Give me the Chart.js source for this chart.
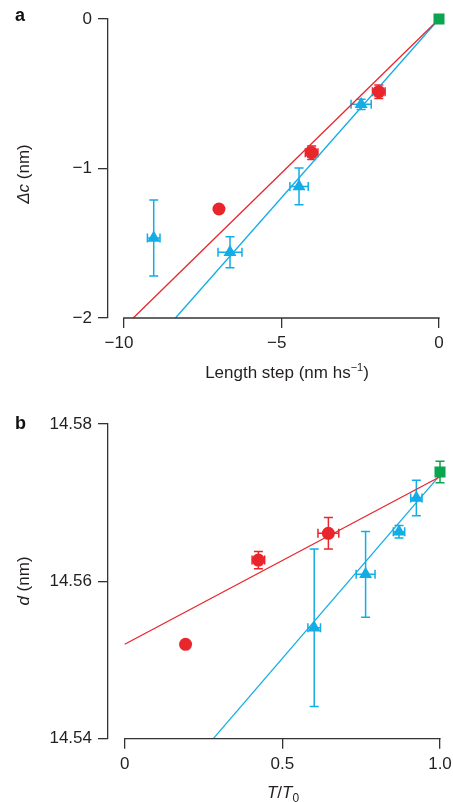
<!DOCTYPE html>
<html lang="en">
<head>
<meta charset="UTF-8">
<title>Length step and spacing</title>
<script src="https://cdn.jsdelivr.net/npm/chart.js@4.4.1/dist/chart.umd.min.js"></script>
<style>
  body { margin: 0; background: #fff; }
  #wrap { position: relative; width: 453px; height: 802px; background: #fff; }
  canvas { position: absolute; left: 0; }
  .t { position: absolute; font: 17px "Liberation Sans", Arial, sans-serif; color: #231f20;
       line-height: 1; white-space: nowrap; transform: translate(-50%, -50%); }
  .ty { transform: translate(-50%, -50%) rotate(-90deg); }
  .panel { position: absolute; font: bold 18px "Liberation Sans", Arial, sans-serif; color: #111; line-height: 1; }
  sup { font-size: 11px; vertical-align: 7px; line-height: 0; }
  sub { font-size: 12px; vertical-align: -4px; line-height: 0; }
</style>
</head>
<body>
<div id="wrap">
  <canvas id="chartA" width="453" height="400" style="top:0"></canvas>
  <canvas id="chartB" width="453" height="402" style="top:400px"></canvas>
  <div class="panel" style="left:15px; top:6px">a</div>
  <div class="panel" style="left:15px; top:414px">b</div>
  <div class="t ty" style="left:22.5px; top:173.5px"><i>Δc</i> (nm)</div>
  <div class="t" style="left:287px; top:372px">Length step (nm hs<sup>−1</sup>)</div>
  <div class="t ty" style="left:23px; top:580.5px"><i>d</i> (nm)</div>
  <div class="t" style="left:283px; top:792px"><i>T</i>/<i>T</i><sub>0</sub></div>
</div>
<script>
// panel a: length step vs delta c
const aRedX = [-1.91, -4.04, -6.98];
const aRedY = [-0.486, -0.894, -1.271];
const aRedXErr = [0.2, 0.2, 0];
const aRedYErr = [0.045, 0.045, 0];
const aBlueX = [-2.47, -4.44, -6.63, -9.05];
const aBlueY = [-0.571, -1.12, -1.56, -1.465];
const aBlueXErr = [0.32, 0.29, 0.38, 0.2];
const aBlueYErr = [0.035, 0.123, 0.104, 0.254];
const aGreenX = [0];
const aGreenY = [0];
const aRedFitX = [-9.70, 0];
const aRedFitY = [-2, 0];
const aBlueFitX = [-8.36, 0];
const aBlueFitY = [-2, 0];
const aXTicks = [-10, -5, 0];
const aYTicks = [-2, -1, 0];

// panel b: T/T0 vs d
const bRedX = [0.193, 0.424, 0.646];
const bRedY = [14.5520, 14.5627, 14.5661];
const bRedXErr = [0, 0.02, 0.033];
const bRedYErr = [0, 0.0011, 0.002];
const bBlueX = [0.601, 0.764, 0.870, 0.925];
const bBlueY = [14.5541, 14.5609, 14.5663, 14.5706];
const bBlueXErr = [0.02, 0.03, 0.018, 0.018];
const bBlueYErr = [0.01, 0.00545, 0.0008, 0.00225];
const bGreenX = [1.0];
const bGreenY = [14.5739];
const bGreenXErr = [0];
const bGreenYErr = [0.00136];
const bRedFitX = [0, 1];
const bRedFitY = [14.5520, 14.5733];
const bBlueFitX = [0.281, 1];
const bBlueFitY = [14.54, 14.5735];
const bXTicks = [0, 0.5, 1.0];
const bYTicks = [14.54, 14.56, 14.58];

const RED = '#e8262c';
const BLUE = '#12ade6';
const GREEN = '#0aa54f';
const AXIS = '#333';

Chart.defaults.font.family = '"Liberation Sans", Arial, sans-serif';
Chart.defaults.font.size = 17;
Chart.defaults.color = '#231f20';

const pts = (xs, ys) => xs.map((x, i) => ({x: x, y: ys[i]}));

const errorBars = {
  id: 'errorBars',
  beforeDatasetsDraw(chart) {
    const {ctx} = chart;
    const xs = chart.scales.x, ys = chart.scales.y;
    const cap = 4.5;
    chart.data.datasets.forEach(ds => {
      if (!ds.xErr && !ds.yErr) return;
      ctx.save();
      ctx.strokeStyle = ds.backgroundColor;
      ctx.lineWidth = 1.5;
      ds.data.forEach((p, i) => {
        const px = xs.getPixelForValue(p.x), py = ys.getPixelForValue(p.y);
        const ex = ds.xErr ? ds.xErr[i] : 0;
        const ey = ds.yErr ? ds.yErr[i] : 0;
        ctx.beginPath();
        if (ey) {
          const y1 = ys.getPixelForValue(p.y - ey), y2 = ys.getPixelForValue(p.y + ey);
          ctx.moveTo(px, y1); ctx.lineTo(px, y2);
          ctx.moveTo(px - cap, y1); ctx.lineTo(px + cap, y1);
          ctx.moveTo(px - cap, y2); ctx.lineTo(px + cap, y2);
        }
        if (ex) {
          const x1 = xs.getPixelForValue(p.x - ex), x2 = xs.getPixelForValue(p.x + ex);
          ctx.moveTo(x1, py); ctx.lineTo(x2, py);
          ctx.moveTo(x1, py - cap); ctx.lineTo(x1, py + cap);
          ctx.moveTo(x2, py - cap); ctx.lineTo(x2, py + cap);
        }
        ctx.stroke();
      });
      ctx.restore();
    });
  }
};

// x axis line only spans the tick range, not the whole chart width
const axisLine = {
  id: 'axisLine',
  afterDraw(chart, args, opts) {
    const xs = chart.scales.x;
    const {ctx} = chart;
    ctx.save();
    ctx.strokeStyle = AXIS;
    ctx.lineWidth = 1.3;
    ctx.beginPath();
    ctx.moveTo(xs.getPixelForValue(opts.from) - 0.65, xs.top);
    ctx.lineTo(xs.getPixelForValue(opts.to) + 0.65, xs.top);
    ctx.stroke();
    ctx.restore();
  }
};

function scatterSet(xs, ys, color, style, r, xErr, yErr) {
  return {
    type: 'scatter', data: pts(xs, ys), backgroundColor: color, borderColor: color,
    pointStyle: style, pointRadius: r, pointBorderWidth: 0, pointHoverRadius: r,
    xErr: xErr, yErr: yErr, clip: false, order: 1
  };
}
function fitSet(xs, ys, color) {
  return {
    type: 'line', data: pts(xs, ys), borderColor: color, borderWidth: 1.3,
    pointRadius: 0, fill: false, clip: false, order: 2
  };
}

function makeChart(id, datasets, sc) {
  return new Chart(document.getElementById(id), {
    type: 'scatter',
    data: {datasets: datasets},
    plugins: [errorBars, axisLine],
    options: {
      responsive: false,
      animation: false,
      devicePixelRatio: 1,
      layout: {padding: {top: sc.top, right: sc.right, left: 0, bottom: 0}},
      plugins: {legend: {display: false}, tooltip: {enabled: false},
                axisLine: {from: sc.xTicks[0], to: sc.xTicks[sc.xTicks.length - 1]}},
      scales: {
        x: {
          type: 'linear', min: sc.xMin, max: sc.xMax,
          afterBuildTicks: s => { s.ticks = sc.xTicks.map(v => ({value: v})); },
          afterFit: s => { s.height = sc.xHeight; s.paddingLeft = 0; s.paddingRight = 0; },
          ticks: {callback: sc.xFmt, padding: 5, maxRotation: 0, autoSkip: false},
          grid: {drawOnChartArea: false, tickLength: 10, color: AXIS, lineWidth: 1.3},
          border: {display: false}
        },
        y: {
          type: 'linear', min: sc.yMin, max: sc.yMax,
          afterBuildTicks: s => { s.ticks = sc.yTicks.map(v => ({value: v})); },
          afterFit: s => { s.width = 108; },
          ticks: {callback: sc.yFmt, padding: 6, autoSkip: false},
          grid: {drawOnChartArea: false, tickLength: 10, color: AXIS, lineWidth: 1.3},
          border: {display: true, color: AXIS, width: 1.3}
        }
      }
    }
  });
}

const minus = v => String(v).replace('-', '\u2212');
// negative x labels: digits sit centred under the tick, the minus hangs left
const minusX = v => v < 0 ? minus(v) + '\u2007' : minus(v);

makeChart('chartA', [
  fitSet(aRedFitX, aRedFitY, RED),
  fitSet(aBlueFitX, aBlueFitY, BLUE),
  scatterSet(aRedX, aRedY, RED, 'circle', 6.5, aRedXErr, aRedYErr),
  scatterSet(aBlueX, aBlueY, BLUE, 'triangle', 7.5, aBlueXErr, aBlueYErr),
  scatterSet(aGreenX, aGreenY, GREEN, 'rect', 7.8, null, null)
], {
  top: 19, right: 14, xHeight: 82, xMin: -10.5, xMax: 0, yMin: -2, yMax: 0,
  xTicks: aXTicks, yTicks: aYTicks, xFmt: minusX, yFmt: minus
});

makeChart('chartB', [
  fitSet(bRedFitX, bRedFitY, RED),
  fitSet(bBlueFitX, bBlueFitY, BLUE),
  scatterSet(bRedX, bRedY, RED, 'circle', 6.5, bRedXErr, bRedYErr),
  scatterSet(bBlueX, bBlueY, BLUE, 'triangle', 7.5, bBlueXErr, bBlueYErr),
  scatterSet(bGreenX, bGreenY, GREEN, 'rect', 7.8, bGreenXErr, bGreenYErr)
], {
  top: 24, right: 13, xHeight: 63.3, xMin: -0.053, xMax: 1.0, yMin: 14.54, yMax: 14.58,
  xTicks: bXTicks, yTicks: bYTicks,
  xFmt: v => v === 0 ? '0' : v.toFixed(1), yFmt: v => v.toFixed(2)
});
</script>
</body>
</html>
